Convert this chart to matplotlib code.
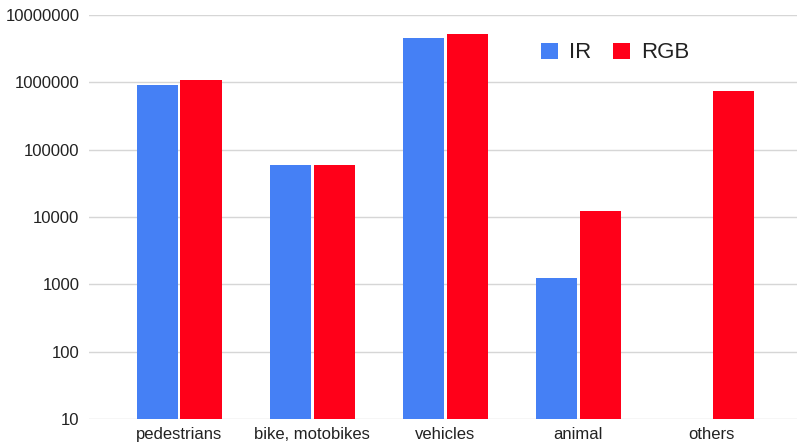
import numpy as np
import matplotlib
matplotlib.use("Agg")
import matplotlib.pyplot as plt

# data (log scale)
categories = ["pedestrians", "bike, motobikes", "vehicles", "animal", "others"]
ir_counts = [925000, 58500, 4600000, 1230, np.nan]
rgb_counts = [1080000, 58500, 5300000, 12300, 735000]
y_ticks = [10, 100, 1000, 10000, 100000, 1000000, 10000000]

blue = "#4580f5"
red = "#ff0019"
text_col = "#222222"

plt.rcParams["font.family"] = ["Liberation Sans", "DejaVu Sans"]

fig = plt.figure(figsize=(7.97, 4.47), dpi=100)
ax = fig.add_axes([89 / 797, 28 / 447, 708 / 797, 404 / 447])

x = np.arange(len(categories))
w = 0.31
off = 0.165
ax.bar(x - off, ir_counts, w, color=blue, label="IR", zorder=3)
ax.bar(x + off, rgb_counts, w, color=red, label="RGB", zorder=3)

ax.set_yscale("log")
ax.set_ylim(10, 1e7)
ax.set_xlim(-0.677, 4.643)
ax.set_yticks(y_ticks)
ax.set_yticklabels([str(t) for t in y_ticks])
ax.minorticks_off()
ax.set_xticks(x)
ax.set_xticklabels(categories)

ax.tick_params(axis="both", length=0, labelsize=12, colors=text_col)
ax.tick_params(axis="y", pad=7)
ax.tick_params(axis="x", pad=6)
ax.grid(axis="y", color="#d6d6d6", linewidth=1.0, zorder=0)
for s in ax.spines.values():
    s.set_visible(False)

fig.legend(loc="center", bbox_to_anchor=(615 / 797, 1 - 53 / 447), ncol=2,
           frameon=False, fontsize=16, handlelength=0.75, handleheight=0.75,
           handletextpad=0.5, columnspacing=1.0, labelcolor=text_col)

fig.savefig("out.png", dpi=100)
